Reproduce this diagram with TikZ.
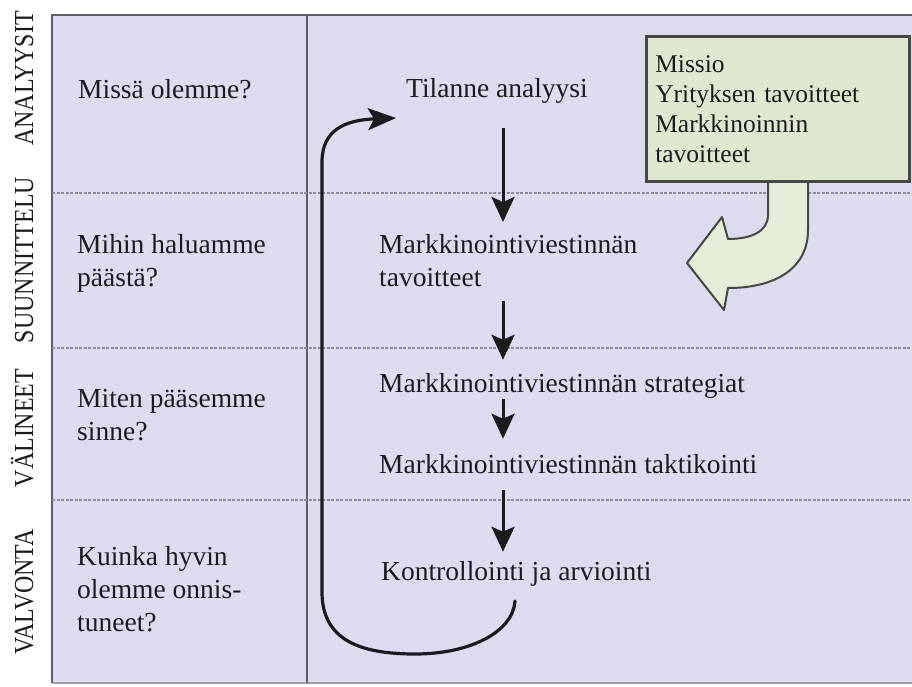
\documentclass[tikz,border=0pt]{standalone}
\usepackage{fontspec}
\setmainfont{Liberation Serif}
\newfontfamily\sidefont{Liberation Serif}[FakeStretch=0.87]
\usetikzlibrary{arrows.meta}

\definecolor{panel}{RGB}{221,219,240}
\definecolor{frame}{RGB}{95,95,105}
\definecolor{sep}{RGB}{140,138,155}
\definecolor{ink}{RGB}{28,28,30}
\definecolor{boxfill}{RGB}{221,232,207}
\definecolor{boxline}{RGB}{70,72,70}
\definecolor{bendfill}{RGB}{228,237,216}

\tikzset{
  txt/.style={font=\fontsize{27.5}{33}\selectfont, text=ink, inner sep=0pt, align=left},
  boxtxt/.style={font=\fontsize{25.5}{30}\selectfont, text=ink, inner sep=0pt, align=left},
  sidelabel/.style={font=\sidefont\fontsize{27.5}{30}\selectfont, text=ink, rotate=90, anchor=base, inner sep=0pt},
  flow/.style={draw=ink, line width=3pt, -{Stealth[length=25pt,width=23pt,inset=5pt]}},
  loopline/.style={draw=ink, line width=3.2pt, line cap=round, -{Stealth[length=28pt,width=22pt,inset=6pt]}},
  rowsep/.style={draw=sep, line width=2pt, dash pattern=on 3pt off 1.5pt},
}

\begin{document}
\begin{tikzpicture}[x=1pt, y=-1pt]
\useasboundingbox (0,0) rectangle (912,686);
\fill[white] (0,0) rectangle (912,686);

% lavender panel and its frame
\fill[panel] (52,15) rectangle (912,683);
\draw[frame, line width=2.5pt] (52,683) -- (52,15) -- (912,15);
\draw[frame!60, line width=1.2pt] (52,683) -- (912,683);
\draw[frame, line width=2.5pt] (307,15) -- (307,683);

% row separators
\foreach \yy in {193,348,500} \draw[rowsep] (52,\yy) -- (912,\yy);

% phase labels at the left margin
\node[sidelabel] (ph1) at (33,78.5) {ANALYYSIT};
\node[sidelabel] (ph2) at (33,260) {SUUNNITTELU};
\node[sidelabel] (ph3) at (33,428) {VÄLINEET};
\node[sidelabel] (ph4) at (33,592) {VALVONTA};

% questions
\node[txt, anchor=base west] (q1) at (78,98) {Missä olemme?};
\node[txt, anchor=north west] (q2) at (77,234) {Mihin haluamme\\päästä?};
\node[txt, anchor=north west] (q3) at (77,389) {Miten pääsemme\\sinne?};
\node[txt, anchor=north west] (q4) at (77,546) {Kuinka hyvin\\olemme onnis-\\tuneet?};

% process steps
\node[txt, anchor=base west] (tila) at (406,97) {Tilanne analyysi};
\node[txt, anchor=north west] (tav) at (379,234) {Markkinointiviestinnän\\tavoitteet};
\node[txt, anchor=base west] (str) at (379,392) {Markkinointiviestinnän strategiat};
\node[txt, anchor=base west] (tak) at (379,473) {Markkinointiviestinnän taktikointi};
\node[txt, anchor=base west] (kon) at (381,580) {Kontrollointi ja arviointi};

\coordinate (ax) at (503,0);
\draw[flow, shorten <=25pt, shorten >=12pt] (tila.south -| ax) -- (tav.north -| ax);
\draw[flow, shorten <=14pt, shorten >=13pt] (tav.south -| ax) -- (str.north -| ax);
\draw[flow, shorten <=1pt, shorten >=15pt] (str.south -| ax) -- (tak.north -| ax);
\draw[flow, shorten <=17pt, shorten >=9pt] (tak.south -| ax) -- (kon.north -| ax);

% feedback loop from evaluation back to analysis
\coordinate (lpstart) at (515,601);
\coordinate (lpend) at (396,118);
\draw[loopline] (lpstart) .. controls (513,632) and (470,654) .. (415,654)
  .. controls (360,654) and (322,640) .. (322,592) -- (322,162)
  .. controls (322,130) and (345,120) .. (lpend);

% curved block arrow from the goals box
\filldraw[fill=bendfill, draw=boxline, line width=2pt, line join=round]
  (768,175) -- (768,215) .. controls (768,231) and (752,239) .. (728,239)
  -- (722,217) -- (687,263) -- (724,310) -- (728,288)
  .. controls (776,288) and (808,268) .. (808,230) -- (808,175);

% goals box
\node[boxtxt, anchor=north west, fill=boxfill, draw=boxline, line width=2.5pt,
      minimum width=263pt, minimum height=145pt, inner xsep=9pt, inner ysep=8pt,
      text width=245pt] (goals) at (645,35)
  {Missio\\Yrityksen tavoitteet\\Markkinoinnin\\tavoitteet};
\end{tikzpicture}
\end{document}
